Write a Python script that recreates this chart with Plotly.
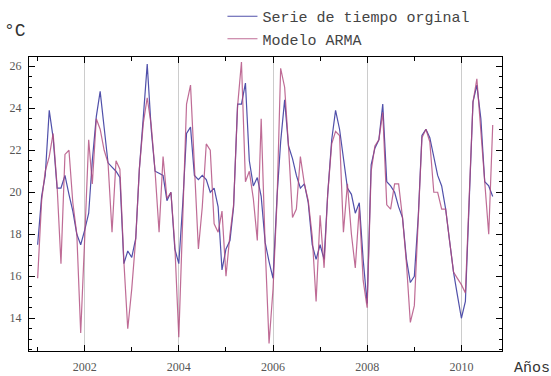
import pandas as pd
import plotly.graph_objects as go

# Monthly series, Jan 2001 .. Sep 2010 (°C)
serie_original = [
    17.5, 19.8, 20.8, 23.9, 22.6, 20.2, 20.2, 20.8, 19.9, 19.1, 18.0, 17.5,
    18.2, 19.0, 21.5, 23.6, 24.8, 23.2, 21.4, 21.2, 21.0, 20.7, 16.6, 17.2,
    16.9, 17.8, 21.1, 23.6, 26.1, 23.0, 21.0, 20.9, 20.8, 19.6, 20.0, 17.3,
    16.6, 19.5, 22.8, 23.1, 20.8, 20.6, 20.8, 20.6, 20.0, 20.2, 19.3, 16.3,
    17.3, 17.7, 19.3, 24.2, 24.2, 25.2, 21.5, 20.3, 20.7, 19.8, 17.6, 16.7,
    15.9, 19.8, 22.4, 24.4, 22.2, 21.6, 20.8, 20.2, 20.4, 19.5, 17.5, 16.8,
    17.5, 16.8, 19.9, 22.5, 23.9, 23.0, 21.5, 20.2, 19.9, 19.0, 19.5, 16.8,
    14.7, 21.3, 22.1, 22.5, 24.2, 20.5, 20.3, 20.0, 19.3, 18.8, 16.8, 15.7,
    16.0, 18.9, 22.7, 23.0, 22.6, 21.7, 20.8, 20.3, 19.2, 17.7, 16.2, 15.1,
    14.0, 14.8, 19.8, 24.3, 25.1, 23.5, 20.5, 20.3, 19.8,
]
modelo_arma = [
    15.9, 19.6, 21.0, 21.7, 22.8, 20.3, 16.6, 21.8, 22.0, 19.5, 18.0, 13.3,
    17.8, 22.5, 20.4, 23.5, 23.0, 22.0, 21.4, 18.1, 21.5, 21.1, 16.7, 13.5,
    15.4, 17.8, 21.1, 23.3, 24.5, 23.2, 21.0, 18.1, 21.7, 19.7, 20.0, 17.5,
    13.1, 19.0, 24.2, 25.1, 21.0, 17.3, 19.3, 22.3, 22.0, 18.5, 18.1, 19.1,
    16.0, 18.0, 19.4, 24.1, 26.2, 20.5, 21.0, 19.7, 17.7, 23.5, 17.4, 12.8,
    15.4, 19.6, 25.9, 25.0, 22.2, 18.8, 19.2, 21.7, 20.4, 19.6, 17.9, 14.8,
    18.9, 16.4, 19.9, 22.3, 22.9, 22.7, 18.1, 20.4, 18.0, 16.4, 19.3, 15.8,
    14.5, 21.0, 22.2, 22.5, 23.8, 19.4, 19.2, 20.4, 20.4, 18.8, 16.6, 13.8,
    14.6, 18.7, 22.6, 23.0, 22.4, 20.0, 20.0, 19.2, 19.2, 17.7, 16.2, 15.9,
    15.6, 15.2, 19.7, 24.3, 25.4, 23.1, 20.5, 18.0, 23.2,
]
fechas = pd.date_range("2001-01-01", periods=len(serie_original), freq="MS")
tick_years = [2002, 2004, 2006, 2008, 2010]
y_ticks = [14, 16, 18, 20, 22, 24, 26]

fig = go.Figure()
fig.add_trace(go.Scatter(x=fechas, y=serie_original, mode="lines",
                         name="Serie de tiempo orginal",
                         line=dict(color="#5050aa", width=1.2)))
fig.add_trace(go.Scatter(x=fechas, y=modelo_arma, mode="lines",
                         name="Modelo ARMA", opacity=0.8,
                         line=dict(color="#b0487c", width=1.2)))

tick_font = dict(family="Liberation Serif", size=12, color="#555555")
fig.update_layout(
    width=551, height=376, autosize=False,
    margin=dict(l=29, r=49, t=57, b=25, autoexpand=False),
    paper_bgcolor="white", plot_bgcolor="white",
    showlegend=True,
    legend=dict(x=0.409, y=1.008, xref="paper", yref="container",
                xanchor="left", yanchor="top",
                font=dict(family="Liberation Mono", size=15, color="#444444"),
                bgcolor="rgba(0,0,0,0)", itemwidth=30, tracegroupgap=0),
    xaxis=dict(
        range=["2000-10-26", "2010-11-12"], automargin=False,
        tickvals=[f"{y}-01-01" for y in tick_years],
        ticktext=[str(y) for y in tick_years],
        ticks="inside", ticklen=6, tickcolor="black",
        showline=True, linecolor="black", linewidth=1, mirror="ticks",
        showgrid=True, gridcolor="#cccccc", gridwidth=1, zeroline=False,
        tickfont=tick_font, ticklabelstandoff=5,
        minor=dict(tick0="2001-01-01", dtick="M12", ticks="inside",
                   ticklen=4, tickcolor="black", showgrid=False),
    ),
    yaxis=dict(
        range=[12.44, 26.44], automargin=False,
        tickvals=y_ticks, ticktext=[str(v) for v in y_ticks],
        ticks="inside", ticklen=6, tickcolor="black",
        showline=True, linecolor="black", linewidth=1, mirror="ticks",
        showgrid=False, zeroline=False,
        tickfont=tick_font, ticklabelstandoff=4,
        minor=dict(tick0=14, dtick=0.5, ticks="inside", ticklen=3,
                   tickcolor="black", showgrid=False),
    ),
    annotations=[
        dict(text="°C", xref="paper", yref="paper", x=-0.058, y=1.09,
             xanchor="left", yanchor="middle", showarrow=False,
             font=dict(family="Liberation Mono", size=18, color="#333333")),
        dict(text="Años", xref="paper", yref="paper", x=1.022, y=-0.06,
             xanchor="left", yanchor="middle", showarrow=False,
             font=dict(family="Liberation Mono", size=15, color="#333333")),
    ],
)
fig.write_html("out.html")
